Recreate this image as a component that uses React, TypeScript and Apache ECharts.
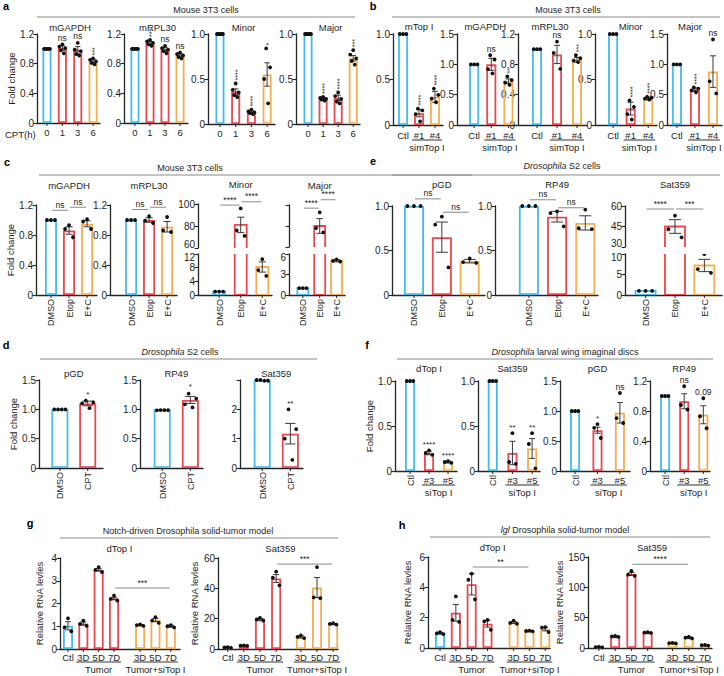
import React, { useEffect, useRef } from 'react';
import * as echarts from 'echarts';

// ---------------- colours / fonts ----------------
const B = '#43bcea';
const R = '#ea4850';
const O = '#f2ae52';
const AX = '#262626';
const TXT = '#1e1e1e';
const SIG = '#8a8a8a';
const ERR = '#3a3a3a';
const FONT = '"Liberation Sans", Arial, Helvetica, sans-serif';
const BAR_LW = 1.8;
const GROUP_SPLIT = 4;

// ---------------- panel a data ----------------
const aCats = ['0', '1', '3', '6'];
const aGapdhMean = [1.0, 1.01, 0.98, 0.83];
const aGapdhErr = [0, 0.03, 0.05, 0.03];
const aGapdhDots = [[1, 1, 1, 1, 1], [1.06, 1.03, 1.01, 0.98, 0.94], [1.08, 0.99, 0.97, 0.93, 0.91], [0.87, 0.85, 0.83, 0.81, 0.79]];
const aGapdhStars = ['', 'ns', 'ns', '***'];
const aRplMean = [1.0, 1.08, 0.99, 0.91];
const aRplErr = [0, 0.02, 0.03, 0.03];
const aRplDots = [[1, 1, 1, 1, 1], [1.12, 1.1, 1.08, 1.06, 1.04], [1.04, 1.01, 0.99, 0.97, 0.94], [0.95, 0.93, 0.91, 0.89, 0.87]];
const aRplStars = ['', '***', 'ns', 'ns'];
const aMinorMean = [1.0, 0.36, 0.13, 0.55];
const aMinorErr = [0, 0.03, 0.015, 0.13];
const aMinorDots = [[1, 1, 1, 1, 1], [0.45, 0.38, 0.35, 0.32, 0.3], [0.16, 0.14, 0.13, 0.12, 0.11], [0.84, 0.63, 0.5, 0.23]];
const aMinorStars = ['', '****', '****', '*'];
const aMajorMean = [1.0, 0.28, 0.29, 0.73];
const aMajorErr = [0, 0.01, 0.03, 0.03];
const aMajorDots = [[1, 1, 1, 1, 1], [0.3, 0.29, 0.28, 0.27, 0.26], [0.35, 0.31, 0.28, 0.25, 0.23], [0.82, 0.77, 0.73, 0.7, 0.66]];
const aMajorStars = ['', '****', '****', '***'];

// ---------------- panel b data ----------------
const bCats = ['Ctl', '#1', '#4'];
const bTopMean = [1.0, 0.13, 0.31];
const bTopErr = [0, 0.04, 0.06];
const bTopDots = [[1, 1, 1], [0.18, 0.16, 0.12, 0.04], [0.4, 0.33, 0.29, 0.25]];
const bTopStars = ['', '****', '****'];
const bGapdhMean = [1.0, 1.0, 0.72];
const bGapdhErr = [0, 0.1, 0.04];
const bGapdhDots = [[1, 1, 1], [1.15, 1.08, 0.92, 0.85], [0.8, 0.74, 0.7, 0.66]];
const bGapdhStars = ['', 'ns', '**'];
const bRplMean = [1.0, 0.93, 0.86];
const bRplErr = [0, 0.12, 0.03];
const bRplDots = [[1, 1, 1], [1.1, 0.95, 0.74], [0.92, 0.88, 0.85, 0.83]];
const bRplStars = ['', 'ns', '***'];
const bMinorMean = [1.0, 0.18, 0.29];
const bMinorErr = [0, 0.07, 0.015];
const bMinorDots = [[1, 1, 1], [0.27, 0.2, 0.12, 0.06], [0.31, 0.3, 0.29, 0.28]];
const bMinorStars = ['', '****', '****'];
const bMajorMean = [1.0, 0.58, 0.88];
const bMajorErr = [0, 0.03, 0.26];
const bMajorDots = [[1, 1, 1], [0.62, 0.6, 0.57, 0.54], [1.41, 0.72, 0.52]];
const bMajorStars = ['', '****', 'ns'];

// ---------------- panel c data ----------------
const cCats = ['DMSO', 'Etop', 'E+C'];
const cGapdhMean = [1.0, 0.86, 0.95];
const cGapdhErr = [0, 0.05, 0.04];
const cGapdhDots = [[1, 1, 1], [0.93, 0.88, 0.77], [1.01, 0.98, 0.88]];
const cGapdhSig: [number, number, number, string][] = [[0, 1, 1.13, 'ns'], [1, 2, 1.17, 'ns']];
const cRplMean = [1.0, 1.0, 0.91];
const cRplErr = [0, 0.03, 0.07];
const cRplDots = [[1, 1, 1], [1.05, 0.99, 0.96], [1.04, 0.86, 0.84]];
const cRplSig: [number, number, number, string][] = [[0, 1, 1.14, 'ns'], [1, 2, 1.17, 'ns']];
const cMinorMean = [1.0, 81, 8.2];
const cMinorErr = [0, 7, 1.5];
const cMinorDots = [[1, 1, 1], [96, 76, 71], [10.5, 7.3, 5.6]];
const cMinorSig: [number, number, number, string][] = [[0, 1, 99, '****'], [1, 2, 102, '****']];
const cMajorMean = [1.0, 80, 5.0];
const cMajorErr = [0, 7, 0.15];
const cMajorDots = [[1, 1, 1], [93, 78, 74], [5.2, 5.0, 4.9]];
const cMajorSig: [number, number, number, string][] = [[0, 1, 97, '****'], [1, 2, 105, '****']];

// ---------------- panel e data ----------------
const ePgdMean = [1.0, 0.65, 0.38];
const ePgdErr = [0, 0.17, 0.02];
const ePgdDots = [[1, 1, 1], [0.88, 0.79, 0.31], [0.41, 0.37, 0.36]];
const ePgdSig: [number, number, number, string][] = [[0, 1, 1.08, 'ns'], [1, 2, 0.93, 'ns']];
const eRpMean = [1.0, 0.88, 0.81];
const eRpErr = [0, 0.06, 0.08];
const eRpDots = [[1, 1, 1], [0.94, 0.92, 0.77], [0.96, 0.75, 0.74]];
const eRpSig: [number, number, number, string][] = [[0, 1, 1.07, 'ns'], [1, 2, 0.98, 'ns']];
const eSatMean = [1.0, 45, 7.2];
const eSatErr = [0, 5, 1.5];
const eSatDots = [[1, 1, 1], [53, 43, 37], [10, 6.3, 5.4]];
const eSatSig: [number, number, number, string][] = [[0, 1, 57.8, '****'], [1, 2, 57.8, '***']];

// ---------------- panel d data ----------------
const dCats = ['DMSO', 'CPT'];
const dPgdMean = [1.0, 1.1];
const dPgdErr = [0, 0.04];
const dPgdDots = [[1, 1, 1, 1], [1.15, 1.12, 1.1, 1.02]];
const dPgdStars = ['', '*'];
const dRpMean = [1.0, 1.16];
const dRpErr = [0, 0.06];
const dRpDots = [[1, 1, 1, 1], [1.28, 1.2, 1.1, 1.05]];
const dRpStars = ['', '*'];
const dSatMean = [3.0, 1.17];
const dSatErr = [0, 0.35];
const dSatDots = [[3, 3, 3, 3], [2.0, 1.35, 1.0, 0.3]];
const dSatStars = ['', '**'];

// ---------------- panel f data ----------------
const fCats = ['Ctl', '#3', '#5'];
const fTopMean = [1.0, 0.2, 0.1];
const fTopErr = [0, 0.02, 0.01];
const fTopDots = [[1, 1, 1], [0.23, 0.2, 0.18], [0.11, 0.1, 0.09]];
const fTopStars = ['', '****', '****'];
const fSatMean = [1.0, 0.2, 0.25];
const fSatErr = [0, 0.13, 0.11];
const fSatDots = [[1, 1, 1], [0.42, 0.1, 0.08], [0.42, 0.3, 0.03]];
const fSatStars = ['', '**', '**'];
const fPgdMean = [1.0, 0.68, 0.97];
const fPgdErr = [0, 0.05, 0.17];
const fPgdDots = [[1, 1, 1], [0.78, 0.72, 0.55], [1.3, 0.88, 0.8]];
const fPgdStars = ['', '*', 'ns'];
const fRpMean = [1.0, 0.93, 0.75];
const fRpErr = [0, 0.1, 0.12];
const fRpDots = [[1, 1, 1], [1.13, 0.88, 0.82], [0.97, 0.73, 0.57]];
const fRpStars = ['', 'ns', '0.09'];

// ---------------- panel g data ----------------
const gCats = ['Ctl', '3D', '5D', '7D', '3D', '5D', '7D'];
const gTopMean = [1.02, 1.12, 3.48, 2.22, 1.05, 1.27, 1.0];
const gTopErr = [0.18, 0.07, 0.05, 0.05, 0.02, 0.07, 0.04];
const gTopDots = [[1.35, 0.95, 0.78], [1.25, 1.1, 1.02], [3.6, 3.48, 3.38], [2.35, 2.2, 2.13], [1.08, 1.05, 1.02], [1.4, 1.25, 1.15], [1.05, 1.0, 0.95]];
const gTopSig: [number, number, number, string][] = [[3, 6, 2.68, '***']];
const gSatMean = [1.0, 2.2, 19.5, 46.5, 8.0, 40.5, 16.5];
const gSatErr = [0.2, 0.1, 0.6, 2.6, 0.7, 6.6, 0.3];
const gSatDots = [[1.2, 1.0, 0.8], [2.3, 2.2, 2.1], [20.5, 19.5, 18.8], [51, 47, 42], [9, 8, 7.2], [54, 34, 33.5], [17, 16.5, 16.1]];
const gSatSig: [number, number, number, string][] = [[3, 6, 56, '***']];

// ---------------- panel h data ----------------
const hTopMean = [0.98, 2.32, 4.2, 1.6, 1.68, 1.12, 1.25];
const hTopErr = [0.05, 0.55, 0.7, 0.22, 0.06, 0.03, 0.12];
const hTopDots = [[1.05, 0.97, 0.92], [3.4, 1.85, 1.72], [4.9, 4.5, 3.2], [1.85, 1.75, 1.2], [1.8, 1.65, 1.6], [1.15, 1.12, 1.1], [1.38, 1.35, 1.05]];
const hTopSig: [number, number, number, string][] = [[2, 5, 5.34, '**']];
const hSatMean = [1.5, 19, 122, 25.5, 8, 17, 4.5];
const hSatErr = [0.3, 0.8, 2.5, 0.4, 0.5, 1.2, 0.3];
const hSatDots = [[1.8, 1.5, 1.2], [20, 19, 18.3], [127, 121, 119], [26, 25.5, 25], [8.5, 8, 7.5], [18.5, 17, 15.8], [5, 4.5, 4]];
const hSatSig: [number, number, number, string][] = [[2, 5, 138, '****']];

// ---------------- styles / layout ----------------
const C2 = [B, R];
const C3 = [B, R, O];
const C4 = [B, R, R, O];
const C7 = [B, R, R, R, O, O, O];
const FC = 'Fold change';
const RNA = 'Relative RNA levles';

type Lay = { x: number; y: number; w: number; h: number; padL: number; padR: number; bw: number; gap?: number };
type Spec = {
  cats: string[]; mean: number[]; err: number[]; dots: number[][]; colors: string[];
  yMin: number; yMax: number; step: number; dec: number; hide?: number[]; hideAll?: boolean;
  lay: Lay;
  labels?: 'h' | 'v' | 'vFirst'; labelDy?: number;
  groups?: [number, number, string][]; groupDy?: number;
  stars?: string[]; starMode?: 'v' | 'h';
  sig?: [number, number, number, string][];
  title?: string; titleDy?: number; titleDx?: number;
  yName?: string; nameGap?: number;
  upper?: boolean; broken?: boolean;
};

const aBase: any = { cats: aCats, colors: C4, starMode: 'v', yMin: 0, dec: 1, titleDy: 7, labels: 'h', labelDy: 9 };
const bBase: any = { cats: bCats, colors: C3, starMode: 'v', yMin: 0, dec: 1, titleDy: 8, labels: 'h', labelDy: 10, groups: [[1, 2, 'simTop I']], groupDy: 15 };
const cBase: any = { cats: cCats, colors: C3, yMin: 0, dec: 1, titleDy: 20, labels: 'v' };
const eBase: any = { cats: cCats, colors: C3, yMin: 0, dec: 1, titleDy: 22, labels: 'v' };
const dBase: any = { cats: dCats, colors: C2, starMode: 'h', yMin: 0, dec: 1, titleDy: 7, labels: 'v' };
const fBase: any = { cats: fCats, colors: C3, starMode: 'h', yMin: 0, dec: 1, titleDy: 13, labels: 'vFirst', labelDy: 9, groups: [[1, 2, 'siTop I']], groupDy: 14 };
const gBase: any = { cats: gCats, colors: C7, yMin: 0, dec: 0, titleDy: 10, labels: 'h', labelDy: 8, groups: [[1, 3, 'Tumor'], [4, 6, 'Tumor+siTop I']], groupDy: 13, yName: RNA, nameGap: 16 };
const hBase: any = { ...gBase, labelDy: 9, groupDy: 14 };

const specs: Spec[] = [
  // a
  { ...aBase, title: 'mGAPDH', mean: aGapdhMean, err: aGapdhErr, dots: aGapdhDots, stars: aGapdhStars, yMax: 1.2, step: 0.4, yName: FC, nameGap: 20, lay: { x: 37, y: 34, w: 63, h: 89, padL: 0.65, padR: 0.45, bw: 9 } },
  { ...aBase, title: 'mRPL30', mean: aRplMean, err: aRplErr, dots: aRplDots, stars: aRplStars, yMax: 1.2, step: 0.4, lay: { x: 124, y: 34, w: 64, h: 89, padL: 0.73, padR: 0.53, bw: 9 } },
  { ...aBase, title: 'Minor', mean: aMinorMean, err: aMinorErr, dots: aMinorDots, stars: aMinorStars, yMax: 1, step: 0.5, lay: { x: 208, y: 34, w: 67, h: 90, padL: 0.76, padR: 0.5, bw: 9 } },
  { ...aBase, title: 'Major', mean: aMajorMean, err: aMajorErr, dots: aMajorDots, stars: aMajorStars, yMax: 1, step: 0.5, lay: { x: 296, y: 34, w: 64, h: 90, padL: 0.8, padR: 0.45, bw: 9 } },
  // b
  { ...bBase, title: 'mTop I', mean: bTopMean, err: bTopErr, dots: bTopDots, stars: bTopStars, yMax: 1, step: 0.5, lay: { x: 393, y: 34, w: 50, h: 91, padL: 0.63, padR: 0.5, bw: 10 } },
  { ...bBase, title: 'mGAPDH', titleDx: -6, mean: bGapdhMean, err: bGapdhErr, dots: bGapdhDots, stars: bGapdhStars, yMax: 1.5, step: 0.5, lay: { x: 457, y: 34, w: 60, h: 91, padL: 1.0, padR: 0.5, bw: 10 } },
  { ...bBase, title: 'mRPL30', titleDx: -7, mean: bRplMean, err: bRplErr, dots: bRplDots, stars: bRplStars, yMax: 1.2, step: 0.4, lay: { x: 518, y: 34, w: 69, h: 91, padL: 0.95, padR: 0.5, bw: 10 } },
  { ...bBase, title: 'Minor', mean: bMinorMean, err: bMinorErr, dots: bMinorDots, stars: bMinorStars, yMax: 1, step: 0.5, lay: { x: 595, y: 34, w: 62, h: 91, padL: 1.03, padR: 0.5, bw: 10 } },
  { ...bBase, title: 'Major', titleDx: -5, mean: bMajorMean, err: bMajorErr, dots: bMajorDots, stars: bMajorStars, yMax: 1.5, step: 0.5, lay: { x: 667, y: 34, w: 55, h: 91, padL: 0.55, padR: 0.5, bw: 10 } },
  // c
  { ...cBase, title: 'mGAPDH', mean: cGapdhMean, err: cGapdhErr, dots: cGapdhDots, sig: cGapdhSig, yMax: 1.2, step: 0.4, yName: FC, nameGap: 19, lay: { x: 36, y: 205, w: 61, h: 90, padL: 0.83, padR: 0.55, bw: 12 } },
  { ...cBase, title: 'mRPL30', mean: cRplMean, err: cRplErr, dots: cRplDots, sig: cRplSig, yMax: 1.2, step: 0.4, lay: { x: 110, y: 205, w: 67, h: 90, padL: 1.17, padR: 0.55, bw: 12 } },
  { ...cBase, title: 'Minor', labels: undefined, upper: true, broken: true, mean: cMinorMean, err: cMinorErr, dots: cMinorDots, sig: cMinorSig, yMin: 60, yMax: 100, step: 20, dec: 0, lay: { x: 198, y: 204, w: 74, h: 44, padL: 0.98, padR: 0.45, bw: 12 } },
  { ...cBase, broken: true, mean: cMinorMean, err: cMinorErr, dots: cMinorDots, yMin: 0, yMax: 12, step: 4, dec: 0, lay: { x: 198, y: 254, w: 74, h: 41, padL: 0.98, padR: 0.45, bw: 12 } },
  { ...cBase, title: 'Major', labels: undefined, upper: true, broken: true, hideAll: true, mean: cMajorMean, err: cMajorErr, dots: cMajorDots, sig: cMajorSig, yMin: 60, yMax: 100, step: 20, dec: 0, lay: { x: 289, y: 205, w: 56, h: 42, padL: 0.82, padR: 0.5, bw: 11 } },
  { ...cBase, broken: true, mean: cMajorMean, err: cMajorErr, dots: cMajorDots, yMin: 0, yMax: 6, step: 3, dec: 0, lay: { x: 289, y: 254, w: 56, h: 41, padL: 0.82, padR: 0.5, bw: 11 } },
  // e
  { ...eBase, title: 'pGD', mean: ePgdMean, err: ePgdErr, dots: ePgdDots, sig: ePgdSig, yMax: 1, step: 0.5, lay: { x: 392, y: 206, w: 93, h: 89, padL: 0.79, padR: 0.55, bw: 20 } },
  { ...eBase, title: 'RP49', mean: eRpMean, err: eRpErr, dots: eRpDots, sig: eRpSig, yMax: 1, step: 0.5, lay: { x: 495, y: 206, w: 103, h: 89, padL: 1.2, padR: 0.45, bw: 20 } },
  { ...eBase, title: 'Sat359', labels: undefined, upper: true, broken: true, mean: eSatMean, err: eSatErr, dots: eSatDots, sig: eSatSig, yMin: 30, yMax: 60, step: 15, dec: 0, lay: { x: 625, y: 206, w: 97, h: 41, padL: 0.7, padR: 0.6, bw: 20 } },
  { ...eBase, broken: true, mean: eSatMean, err: eSatErr, dots: eSatDots, yMin: 0, yMax: 10, step: 5, dec: 0, lay: { x: 625, y: 254, w: 97, h: 41, padL: 0.7, padR: 0.6, bw: 20 } },
  // d
  { ...dBase, title: 'pGD', mean: dPgdMean, err: dPgdErr, dots: dPgdDots, stars: dPgdStars, yMax: 1.5, step: 0.5, yName: FC, nameGap: 21, lay: { x: 39, y: 380, w: 64, h: 88, padL: 0.75, padR: 0.55, bw: 17 } },
  { ...dBase, title: 'RP49', mean: dRpMean, err: dRpErr, dots: dRpDots, stars: dRpStars, yMax: 1.5, step: 0.5, lay: { x: 140, y: 380, w: 63, h: 88, padL: 0.79, padR: 0.45, bw: 17 } },
  { ...dBase, title: 'Sat359', mean: dSatMean, err: dSatErr, dots: dSatDots, stars: dSatStars, yMax: 3, step: 1, dec: 0, hide: [3], lay: { x: 240, y: 380, w: 63, h: 88, padL: 0.79, padR: 0.45, bw: 17 } },
  // f
  { ...fBase, title: 'dTop I', mean: fTopMean, err: fTopErr, dots: fTopDots, stars: fTopStars, yMax: 1, step: 0.5, yName: FC, nameGap: 17, lay: { x: 395, y: 381, w: 62, h: 90, padL: 0.79, padR: 0.47, bw: 10 } },
  { ...fBase, title: 'Sat359', mean: fSatMean, err: fSatErr, dots: fSatDots, stars: fSatStars, yMax: 1, step: 0.5, lay: { x: 478, y: 381, w: 62, h: 90, padL: 0.75, padR: 0.4, bw: 10 } },
  { ...fBase, title: 'pGD', mean: fPgdMean, err: fPgdErr, dots: fPgdDots, stars: fPgdStars, yMax: 1.5, step: 0.5, lay: { x: 560, y: 381, w: 70, h: 90, padL: 0.67, padR: 0.45, bw: 10 } },
  { ...fBase, title: 'RP49', mean: fRpMean, err: fRpErr, dots: fRpDots, stars: fRpStars, yMax: 1.2, step: 0.4, lay: { x: 650, y: 381, w: 60, h: 90, padL: 0.79, padR: 0.35, bw: 10 } },
  // g
  { ...gBase, title: 'dTop I', mean: gTopMean, err: gTopErr, dots: gTopDots, sig: gTopSig, yMax: 4, step: 1, lay: { x: 60, y: 558, w: 120, h: 91, padL: 0.52, padR: 0.6, bw: 10, gap: 0.7 } },
  { ...gBase, title: 'Sat359', mean: gSatMean, err: gSatErr, dots: gSatDots, sig: gSatSig, yMax: 60, step: 20, lay: { x: 218, y: 558, w: 120, h: 91, padL: 0.6, padR: 0.3, bw: 10, gap: 0.53 } },
  // h
  { ...hBase, title: 'dTop I', mean: hTopMean, err: hTopErr, dots: hTopDots, sig: hTopSig, yMax: 6, step: 2, lay: { x: 428, y: 557, w: 122, h: 91, padL: 0.76, padR: 0.3, bw: 10, gap: 0.65 } },
  { ...hBase, title: 'Sat359', mean: hSatMean, err: hSatErr, dots: hSatDots, sig: hSatSig, yMax: 150, step: 50, lay: { x: 588, y: 557, w: 124, h: 91, padL: 0.67, padR: 0.43, bw: 10, gap: 0.53 } },
];

const HEADERS = [
  { letter: 'a', lx: 6, ly: 6, title: 'Mouse 3T3 cells', tx: 206, ty: 10, x1: 37, x2: 355, y: 17 },
  { letter: 'b', lx: 373, ly: 6, title: 'Mouse 3T3 cells', tx: 568, ty: 10, x1: 392, x2: 720, y: 17 },
  { letter: 'c', lx: 7, ly: 162, title: 'Mouse 3T3 cells', tx: 190, ty: 168, x1: 39, x2: 472, y: 175 },
  { letter: 'e', lx: 373, ly: 161, title: '{i|Drosophila} S2 cells', tx: 562, ty: 166, x1: 392, x2: 720, y: 175 },
  { letter: 'd', lx: 6, ly: 345, title: '{i|Drosophila} S2 cells', tx: 180, ty: 352, x1: 40, x2: 317, y: 359 },
  { letter: 'f', lx: 367, ly: 345, title: '{i|Drosophila} larval wing imaginal discs', tx: 565, ty: 352, x1: 397, x2: 713, y: 359 },
  { letter: 'g', lx: 30, ly: 523, title: 'Notch-driven Drosophila solid-tumor model', tx: 188, ty: 531, x1: 60, x2: 338, y: 538 },
  { letter: 'h', lx: 402, ly: 525, title: '{i|lgl} Drosophila solid-tumor model', tx: 565, ty: 530, x1: 430, x2: 710, y: 537 },
];

const PERM: Record<number, number[]> = { 1: [0], 2: [0, 1], 3: [1, 0, 2], 4: [1, 3, 0, 2], 5: [2, 0, 4, 1, 3] };

function seg(x1: number, y1: number, x2: number, y2: number, stroke = ERR, w = 1) {
  return { type: 'line', shape: { x1, y1, x2, y2 }, style: { stroke, lineWidth: w } };
}
function txt(x: number, y: number, text: string, o: any = {}) {
  return {
    type: 'text', x, y, rotation: o.rot || 0,
    style: { text, fill: TXT, fontSize: o.size || 9.5, fontFamily: FONT, align: o.align || 'center', verticalAlign: o.va || 'middle' },
  };
}
function fmtTick(p: Spec, v: number) {
  if (p.hideAll) return '';
  if (p.hide && p.hide.some((h) => Math.abs(h - v) < 1e-9)) return '';
  const s = Math.abs(v) < 1e-9 ? '0' : v.toFixed(p.dec);
  // broken axes: nudge the two labels that meet at the break apart
  if (p.upper && Math.abs(v - p.yMin) < 1e-9) return '{up|' + s + '}';
  if (p.broken && !p.upper && Math.abs(v - p.yMax) < 1e-9) return '{dn|' + s + '}';
  return s;
}

function buildOption(): any {
  const grid: any[] = [];
  const xAxis: any[] = [];
  const yAxis: any[] = [];
  const series: any[] = [];
  const lblStyle = { fontSize: 10, color: TXT, fontFamily: FONT };
  specs.forEach((p, gi) => {
    const L = p.lay;
    const pos = p.mean.map((_, i) => i + (L.gap && i >= GROUP_SPLIT ? L.gap : 0));
    const n = pos.length;
    grid.push({ left: L.x, top: L.y, width: L.w, height: L.h });
    xAxis.push({
      type: 'value', gridIndex: gi, min: -L.padL, max: pos[n - 1] + L.padR,
      axisLine: { show: !p.upper, onZero: false, lineStyle: { color: AX, width: 1.3 } },
      axisTick: { show: false }, axisLabel: { show: false }, splitLine: { show: false },
    });
    yAxis.push({
      type: 'value', gridIndex: gi, min: p.yMin, max: p.yMax, interval: p.step,
      axisLine: { show: true, onZero: false, lineStyle: { color: AX, width: 1.3 } },
      axisTick: { show: true, length: 3.5, lineStyle: { color: AX, width: 1.1 } },
      axisLabel: {
        margin: 3, ...lblStyle, formatter: (v: number) => fmtTick(p, v),
        rich: { up: { ...lblStyle, padding: [0, 0, 7, 0] }, dn: { ...lblStyle, padding: [7, 0, 0, 0] } },
      },
      splitLine: { show: false },
      name: p.yName || '', nameLocation: 'middle', nameGap: p.nameGap || 20,
      nameTextStyle: { fontSize: 9.5, color: TXT, fontFamily: FONT },
    });
    const idx = { xAxisIndex: gi, yAxisIndex: gi };
    if (!p.broken) {
      series.push({
        type: 'bar', ...idx, barWidth: L.bw, silent: true, z: 2,
        data: p.mean.map((m, i) => ({ value: [pos[i], m], itemStyle: { color: 'rgba(255,255,255,0)', borderColor: p.colors[i], borderWidth: BAR_LW } })),
      });
    }
    // error bars, dots (and clipped bars for broken axes)
    series.push({
      type: 'custom', ...idx, clip: !!p.broken, silent: true, z: 3,
      data: pos.map((x, i) => [x, p.mean[i]]),
      renderItem: (params: any, api: any) => {
        const i = params.dataIndex;
        const x = pos[i];
        const m = p.mean[i];
        const e = p.err[i];
        const [cx, cy] = api.coord([x, m]);
        const y0 = api.coord([x, 0])[1];
        const ch: any[] = [];
        if (p.broken) {
          ch.push({ type: 'rect', shape: { x: cx - L.bw / 2, y: cy, width: L.bw, height: y0 - cy }, style: { fill: 'none', stroke: p.colors[i], lineWidth: BAR_LW } });
        }
        if (e > 0) {
          const t = api.coord([x, m + e])[1];
          const b = api.coord([x, m - e])[1];
          const cw = Math.max(2.5, L.bw * 0.3);
          ch.push(seg(cx, t, cx, b), seg(cx - cw, t, cx + cw, t), seg(cx - cw, b, cx + cw, b));
        }
        const ds = p.dots[i];
        const k = ds.length;
        const perm = PERM[k] || ds.map((_, j) => j);
        const sp = k > 1 ? (L.bw * 0.66) / (k - 1) : 0;
        ds.forEach((d, j) => {
          ch.push({ type: 'circle', shape: { cx: cx + (perm[j] - (k - 1) / 2) * sp, cy: api.coord([x, d])[1], r: 1.9 }, style: { fill: '#111' } });
        });
        return { type: 'group', children: ch };
      },
    });
    // labels, ticks, stars, significance, titles
    series.push({
      type: 'custom', ...idx, clip: false, silent: true, z: 4,
      data: pos.map((x) => [x, p.yMin]),
      renderItem: (params: any, api: any) => {
        const i = params.dataIndex;
        const ch: any[] = [];
        const [cx, y0] = api.coord([pos[i], p.yMin]);
        if (!p.upper && p.labels) {
          ch.push(seg(cx, y0, cx, y0 + 3, AX, 1));
          const vert = p.labels === 'v' || (p.labels === 'vFirst' && i === 0);
          if (vert) ch.push(txt(cx + 0.5, y0 + 4, p.cats[i], { rot: Math.PI / 2, align: 'right', size: 9 }));
          else ch.push(txt(cx, y0 + (p.labelDy || 9), p.cats[i]));
        }
        if (p.stars && p.stars[i]) {
          const s = p.stars[i];
          const topVal = Math.max(p.mean[i] + p.err[i], ...p.dots[i]);
          const ty = api.coord([pos[i], topVal])[1];
          const isStar = /^\*+$/.test(s);
          if (p.starMode === 'v' && isStar) ch.push(txt(cx + 1.5, ty - 3, s, { rot: Math.PI / 2, align: 'left', size: 7 }));
          else ch.push(txt(cx, ty - 2, s, { va: 'bottom', size: isStar ? 8 : 8.5 }));
        }
        if (i === 0) {
          (p.groups || []).forEach(([a, b, t]) => {
            const xa = api.coord([pos[a], p.yMin])[0] - 7;
            const xb = api.coord([pos[b], p.yMin])[0] + 7;
            const gy = y0 + (p.groupDy || 14);
            ch.push(seg(xa, gy, xb, gy, '#333', 1));
            ch.push(txt((xa + xb) / 2, gy + 7, t));
          });
          (p.sig || []).forEach(([a, b, v, t]) => {
            const pa = api.coord([pos[a], v]);
            const xb = api.coord([pos[b], v])[0] - 1;
            const xa = pa[0] + 1;
            ch.push(seg(xa, pa[1], xb, pa[1], SIG, 1));
            ch.push(txt((xa + xb) / 2, pa[1] - 1, t, { va: 'bottom', size: 8.5 }));
          });
          if (p.title) {
            const pa = api.coord([pos[0], p.yMax]);
            const xb = api.coord([pos[n - 1], p.yMax])[0];
            ch.push(txt((pa[0] + xb) / 2 + (p.titleDx || 0), pa[1] - (p.titleDy || 7), p.title));
          }
        }
        return { type: 'group', children: ch };
      },
    });
  });

  const graphic: any[] = [];
  HEADERS.forEach((h) => {
    graphic.push({ type: 'text', x: h.lx, y: h.ly, style: { text: h.letter, fill: '#000', fontSize: 11, fontWeight: 'bold', fontFamily: FONT, align: 'center', verticalAlign: 'middle' } });
    graphic.push({
      type: 'text', x: h.tx, y: h.ty,
      style: { text: h.title, fill: TXT, fontSize: 9, fontFamily: FONT, align: 'center', verticalAlign: 'middle', rich: { i: { fontStyle: 'italic', fontSize: 9, fontFamily: FONT, fill: TXT } } },
    });
    graphic.push({ type: 'line', shape: { x1: h.x1, y1: h.y, x2: h.x2, y2: h.y }, style: { stroke: SIG, lineWidth: 1 } });
  });
  graphic.push({ type: 'text', x: 5, y: 134, style: { text: 'CPT(h)', fill: TXT, fontSize: 9.5, fontFamily: FONT, align: 'left', verticalAlign: 'middle' } });

  return { animation: false, backgroundColor: '#fff', grid, xAxis, yAxis, series, graphic };
}

export default function App() {
  const ref = useRef<HTMLDivElement>(null);
  useEffect(() => {
    if (!ref.current) return;
    const chart = echarts.init(ref.current, undefined, { renderer: 'svg' });
    chart.setOption(buildOption());
    return () => chart.dispose();
  }, []);
  return <div ref={ref} style={{ position: 'fixed', left: 0, top: 0, width: 724, height: 676, background: '#fff' }} />;
}
